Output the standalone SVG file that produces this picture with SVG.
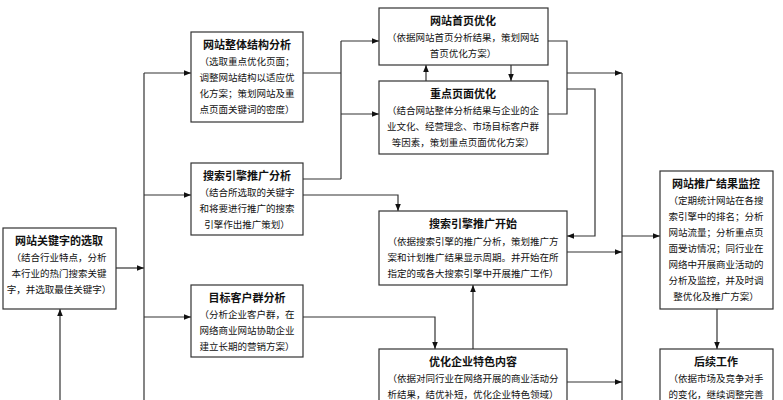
<svg xmlns="http://www.w3.org/2000/svg" width="783" height="400" viewBox="0 0 783 400">
<style>
rect{fill:#fff;stroke:#333;stroke-width:1.2}
text{font-family:"Noto Sans CJK SC",sans-serif;fill:#111;text-anchor:middle}
.t{font-size:11px;font-weight:bold}
.b{font-size:9.5px}
#c path{fill:none;stroke:#333;stroke-width:1.2}
</style>
<defs><marker id="a" viewBox="0 0 10 10" refX="10" refY="5" markerWidth="6" markerHeight="6" orient="auto"><path d="M0,1L10,5L0,9z" fill="#111"/></marker></defs>
<g id="c">
<path d="M116,268H144" marker-end="url(#a)"/>
<path d="M144,73V400"/>
<path d="M144,73H191" marker-end="url(#a)"/>
<path d="M144,195H191" marker-end="url(#a)"/>
<path d="M144,317H191" marker-end="url(#a)"/>
<path d="M60,400V309" marker-end="url(#a)"/>
<path d="M303,73H341M341,41V179M303,179H341"/>
<path d="M341,41H379" marker-end="url(#a)"/>
<path d="M341,114H379" marker-end="url(#a)"/>
<path d="M303,195H398V211" marker-end="url(#a)"/>
<path d="M303,317H435V349" marker-end="url(#a)"/>
<path d="M426,81V65" marker-end="url(#a)"/>
<path d="M511,65V81" marker-end="url(#a)"/>
<path d="M548,41H567V114H548"/>
<path d="M567,73H622" marker-end="url(#a)"/>
<path d="M567,89H595V236H567" marker-end="url(#a)"/>
<path d="M622,73V400"/>
<path d="M567,252H622" marker-end="url(#a)"/>
<path d="M567,382H622" marker-end="url(#a)"/>
<path d="M622,236H660" marker-end="url(#a)"/>
<path d="M717,309V349" marker-end="url(#a)"/>
<path d="M473,349V285" marker-end="url(#a)"/>
</g>
<g id="n1"><rect x="3" y="228" width="113" height="81"/><text class="t" x="59" y="245">网站关键字的选取</text><text class="b" x="59" y="261">（结合行业特点，分析</text><text class="b" x="59" y="277">本行业的热门搜索关键</text><text class="b" x="59" y="293">字，并选取最佳关键字）</text></g>
<g id="n2"><rect x="191" y="32" width="112" height="90"/><text class="t" x="247" y="49">网站整体结构分析</text><text class="b" x="247" y="65">（选取重点优化页面；</text><text class="b" x="247" y="81">调整网站结构以适应优</text><text class="b" x="247" y="97">化方案；策划网站及重</text><text class="b" x="247" y="113">点页面关键词的密度）</text></g>
<g id="n3"><rect x="191" y="163" width="112" height="72"/><text class="t" x="247" y="180">搜索引擎推广分析</text><text class="b" x="247" y="196">（结合所选取的关键字</text><text class="b" x="247" y="212">和将要进行推广的搜索</text><text class="b" x="247" y="228">引擎作出推广策划）</text></g>
<g id="n4"><rect x="191" y="285" width="112" height="72"/><text class="t" x="247" y="302">目标客户群分析</text><text class="b" x="247" y="318">（分析企业客户群，在</text><text class="b" x="247" y="334">网络商业网站协助企业</text><text class="b" x="247" y="350">建立长期的营销方案）</text></g>
<g id="n5"><rect x="379" y="8" width="169" height="57"/><text class="t" x="463" y="25">网站首页优化</text><text class="b" x="463" y="41">（依据网站首页分析结果，策划网站</text><text class="b" x="463" y="57">首页优化方案）</text></g>
<g id="n6"><rect x="379" y="81" width="169" height="73"/><text class="t" x="463" y="98">重点页面优化</text><text class="b" x="463" y="114">（结合网站整体分析结果与企业的企</text><text class="b" x="463" y="130">业文化、经营理念、市场目标客户群</text><text class="b" x="463" y="146">等因素，策划重点页面优化方案）</text></g>
<g id="n7"><rect x="379" y="211" width="188" height="74"/><text class="t" x="473" y="228">搜索引擎推广开始</text><text class="b" x="473" y="245">（依据搜索引擎的推广分析，策划推广方</text><text class="b" x="473" y="261">案和计划推广结果显示周期。并开始在所</text><text class="b" x="473" y="277">指定的或各大搜索引擎中开展推广工作）</text></g>
<g id="n8"><rect x="379" y="349" width="188" height="60"/><text class="t" x="473" y="366">优化企业特色内容</text><text class="b" x="473" y="382">（依据对同行业在网络开展的商业活动分</text><text class="b" x="473" y="398">析结果，结优补短，优化企业特色领域）</text></g>
<g id="n9"><rect x="660" y="171" width="113" height="138"/><text class="t" x="716" y="188">网站推广结果监控</text><text class="b" x="716" y="204">（定期统计网站在各搜</text><text class="b" x="716" y="220">索引擎中的排名；分析</text><text class="b" x="716" y="236">网站流量；分析重点页</text><text class="b" x="716" y="252">面受访情况；同行业在</text><text class="b" x="716" y="268">网络中开展商业活动的</text><text class="b" x="716" y="284">分析及监控，并及时调</text><text class="b" x="716" y="300">整优化及推广方案）</text></g>
<g id="n10"><rect x="660" y="349" width="113" height="60"/><text class="t" x="716" y="366">后续工作</text><text class="b" x="716" y="382">（依据市场及竞争对手</text><text class="b" x="716" y="398">的变化，继续调整完善</text></g>
</svg>
